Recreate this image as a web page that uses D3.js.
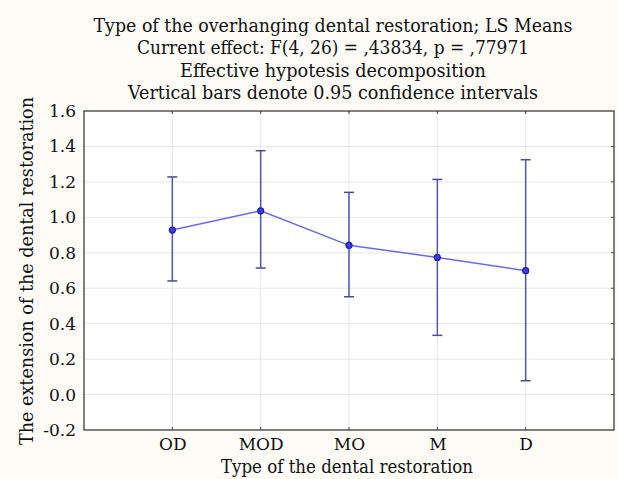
<!DOCTYPE html>
<html>
<head>
<meta charset="utf-8">
<script src="https://cdn.jsdelivr.net/npm/d3@7"></script>
<style>
  html, body { margin: 0; padding: 0; background: #fcfbf6; }
  svg { display: block; font-family: 'DejaVu Serif', 'Liberation Serif', serif; }
</style>
</head>
<body>
<div id="chart"></div>
<script>
// LS means with 0.95 confidence intervals
const categories = ['OD', 'MOD', 'MO', 'M', 'D'];
const means = [0.928, 1.037, 0.842, 0.774, 0.699];
const lower = [0.641, 0.714, 0.552, 0.334, 0.078];
const upper = [1.228, 1.376, 1.141, 1.214, 1.325];
const yTicks = [-0.2, 0.0, 0.2, 0.4, 0.6, 0.8, 1.0, 1.2, 1.4, 1.6];
const titleLines = [
  'Type of the overhanging dental restoration; LS Means',
  'Current effect: F(4, 26) = ,43834, p = ,77971',
  'Effective hypotesis decomposition',
  'Vertical bars denote 0.95 confidence intervals'
];
const titleWidths = [479, 392, 306, 410];

const W = 618, H = 479;
const margin = { top: 111, right: 4, bottom: 49, left: 84 };
const width = W - margin.left - margin.right;
const height = H - margin.top - margin.bottom;

const svg = d3.select('#chart')
  .append('svg')
  .attr('width', W)
  .attr('height', H);

const g = svg.append('g')
  .attr('transform', `translate(${margin.left},${margin.top})`);

const x = d3.scalePoint()
  .domain(categories)
  .range([0, width])
  .padding(1);

const y = d3.scaleLinear()
  .domain([-0.2, 1.6])
  .range([height, 0]);

// plot background
g.append('rect')
  .attr('width', width)
  .attr('height', height)
  .attr('fill', '#ffffff');

// gridlines
g.append('g')
  .selectAll('line')
  .data(yTicks.slice(1, -1))
  .join('line')
  .attr('x1', 0)
  .attr('x2', width)
  .attr('y1', d => y(d))
  .attr('y2', d => y(d))
  .style('stroke', '#e6e6ec')
  .style('stroke-width', 1);

g.append('g')
  .selectAll('line')
  .data(categories)
  .join('line')
  .attr('x1', d => x(d))
  .attr('x2', d => x(d))
  .attr('y1', 0)
  .attr('y2', height)
  .style('stroke', '#e6e6ec')
  .style('stroke-width', 1);

// axes
const yAxis = g.append('g')
  .call(d3.axisLeft(y).tickValues(yTicks).tickSize(0).tickPadding(8));
yAxis.select('.domain').remove();
yAxis.selectAll('text')
  .style('font-size', '17px')
  .attr('font-family', "'DejaVu Serif', serif")
  .attr('fill', '#111')
  .text(d => d3.format('.1f')(d).replace('−', '-'));

const xAxis = g.append('g')
  .attr('transform', `translate(0,${height})`)
  .call(d3.axisBottom(x).tickSize(0).tickPadding(8));
xAxis.select('.domain').remove();
xAxis.selectAll('text')
  .style('font-size', '17px')
  .attr('font-family', "'DejaVu Serif', serif")
  .attr('fill', '#111');

// inward ticks on top, bottom and right
g.append('g')
  .selectAll('line')
  .data(categories)
  .join('line')
  .attr('x1', d => x(d))
  .attr('x2', d => x(d))
  .attr('y1', 0)
  .attr('y2', 3)
  .style('stroke', '#444');
g.append('g')
  .selectAll('line')
  .data(categories)
  .join('line')
  .attr('x1', d => x(d))
  .attr('x2', d => x(d))
  .attr('y1', height)
  .attr('y2', height - 3)
  .style('stroke', '#444');
g.append('g')
  .selectAll('line')
  .data(yTicks.slice(1, -1))
  .join('line')
  .attr('x1', width)
  .attr('x2', width - 3)
  .attr('y1', d => y(d))
  .attr('y2', d => y(d))
  .style('stroke', '#444');

// frame
g.append('rect')
  .attr('width', width)
  .attr('height', height)
  .attr('fill', 'none')
  .style('stroke', '#555')
  .style('stroke-width', 1.5);

// error bars
const bars = g.append('g');
categories.forEach((c, i) => {
  bars.append('line')
    .attr('x1', x(c)).attr('x2', x(c))
    .attr('y1', y(lower[i])).attr('y2', y(upper[i]))
    .style('stroke', '#5555a8').style('stroke-width', 1.5);
  [lower[i], upper[i]].forEach(v => {
    bars.append('line')
      .attr('x1', x(c) - 5).attr('x2', x(c) + 5)
      .attr('y1', y(v)).attr('y2', y(v))
      .style('stroke', '#4a4a98').style('stroke-width', 1.5);
  });
});

// mean line
g.append('path')
  .datum(means)
  .attr('d', d3.line()
    .x((d, i) => x(categories[i]))
    .y(d => y(d)))
  .style('fill', 'none')
  .style('stroke', '#6a6ae0')
  .style('stroke-width', 1.5);

g.append('g')
  .selectAll('circle')
  .data(means)
  .join('circle')
  .attr('cx', (d, i) => x(categories[i]))
  .attr('cy', d => y(d))
  .attr('r', 3)
  .attr('fill', '#4040d8')
  .style('stroke', '#1a1ab8')
  .style('stroke-width', 1.2);

// titles
svg.append('g')
  .selectAll('text')
  .data(titleLines)
  .join('text')
  .attr('x', 333)
  .attr('y', (d, i) => 32 + i * 22.3)
  .attr('text-anchor', 'middle')
  .attr('textLength', (d, i) => titleWidths[i])
  .attr('lengthAdjust', 'spacingAndGlyphs')
  .style('font-size', '19px')
  .attr('fill', '#111')
  .text(d => d);

svg.append('text')
  .attr('x', 347)
  .attr('y', 473)
  .attr('text-anchor', 'middle')
  .attr('textLength', 252)
  .attr('lengthAdjust', 'spacingAndGlyphs')
  .style('font-size', '18px')
  .attr('fill', '#111')
  .text('Type of the dental restoration');

svg.append('text')
  .attr('transform', `translate(33,271) rotate(-90)`)
  .attr('text-anchor', 'middle')
  .attr('textLength', 348)
  .attr('lengthAdjust', 'spacingAndGlyphs')
  .style('font-size', '18px')
  .attr('fill', '#111')
  .text('The extension of the dental restoration');
</script>
</body>
</html>
